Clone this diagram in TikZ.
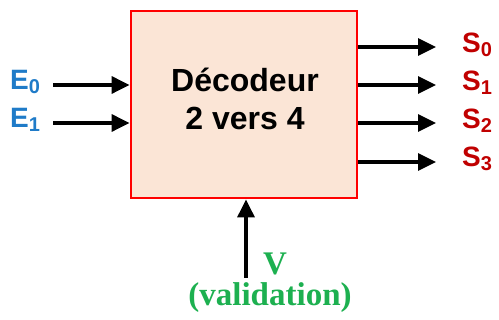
\documentclass[tikz,border=0pt]{standalone}
\usepackage{fontspec}
\setmainfont{Liberation Sans}
\newfontfamily\serifb{Liberation Serif}
\usetikzlibrary{arrows.meta}
\definecolor{boxfill}{HTML}{FBE5D6}
\definecolor{eblue}{HTML}{1F7BC8}
\definecolor{sred}{HTML}{C00000}
\definecolor{vgreen}{HTML}{1DB050}
\newcommand{\sig}[2]{#1\raisebox{-0.3ex}{\fontsize{20}{20}\selectfont #2}}
\begin{document}
\begin{tikzpicture}[x=1pt,y=-1pt,
  sigarrow/.style={line width=3.2pt, -{Triangle[length=18pt,width=17pt]}},
  inlabel/.style={text=eblue, font=\bfseries\fontsize{28}{28}\selectfont, inner sep=0pt, anchor=west},
  outlabel/.style={text=sred, font=\bfseries\fontsize{28}{28}\selectfont, inner sep=0pt, anchor=west},
  vlabel/.style={text=vgreen, font=\serifb\bfseries\fontsize{33}{33}\selectfont, inner sep=0pt}]
\useasboundingbox (0,0) rectangle (499,320);
\node[draw=red, line width=2.8pt, fill=boxfill, minimum width=226pt, minimum height=187pt, inner sep=0pt] (dec) at (244,104.5) {};
\node[font=\bfseries\fontsize{32}{38}\selectfont, align=center, inner sep=0pt, text=black] (txt) at (245,99) {Décodeur\\2 vers 4};
% inputs
\coordinate (e0s) at (53,85);
\coordinate (e1s) at (53,123);
\draw[sigarrow] (e0s) -- (dec.west |- e0s);
\draw[sigarrow] (e1s) -- (dec.west |- e1s);
\node[inlabel] (e0) at (10,82) {\sig{E}{0}};
\node[inlabel] (e1) at (10,120) {\sig{E}{1}};
% outputs
\coordinate (s0e) at (436,47);
\coordinate (s1e) at (436,85);
\coordinate (s2e) at (436,123);
\coordinate (s3e) at (436,162);
\draw[sigarrow] (dec.east |- s0e) -- (s0e);
\draw[sigarrow] (dec.east |- s1e) -- (s1e);
\draw[sigarrow] (dec.east |- s2e) -- (s2e);
\draw[sigarrow] (dec.east |- s3e) -- (s3e);
\node[outlabel] (s0) at (462,45) {\sig{S}{0}};
\node[outlabel] (s1) at (462,83) {\sig{S}{1}};
\node[outlabel] (s2) at (462,121) {\sig{S}{2}};
\node[outlabel] (s3) at (462,159) {\sig{S}{3}};
% validation
\coordinate (vs) at (246,278);
\draw[sigarrow] (vs) -- (vs |- dec.south);
\node[vlabel] (v) at (275,264) {V};
\node[vlabel] (vt) at (270,298) {(validation)};
\end{tikzpicture}
\end{document}
